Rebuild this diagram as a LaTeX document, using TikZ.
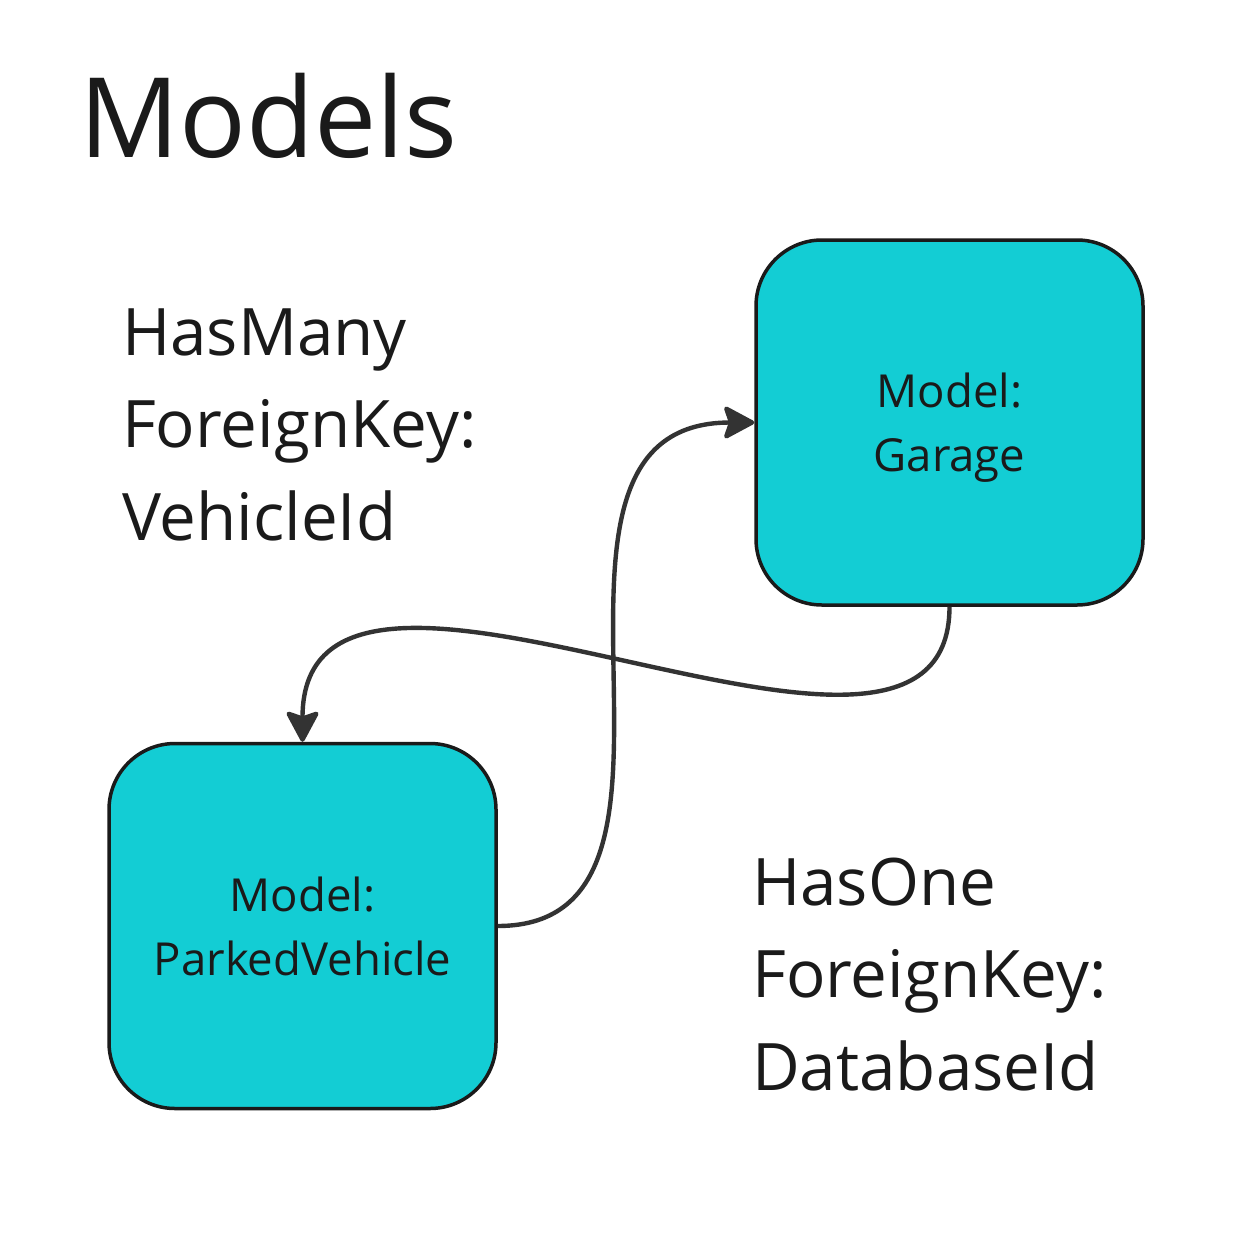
\documentclass[tikz,border=0pt]{standalone}
\usepackage{fontspec}
\setmainfont{Open Sans}
\usetikzlibrary{arrows.meta}
\definecolor{boxfill}{HTML}{13CDD4}
\definecolor{ink}{HTML}{1A1A1A}
\definecolor{wire}{HTML}{333333}
\tikzset{
  modelbox/.style={draw=ink, line width=3.5pt, fill=boxfill, rounded corners=66pt,
    minimum width=387pt, minimum height=365pt, inner sep=0pt},
  boxtext/.style={inner sep=0pt, align=center, text=ink,
    font=\fontsize{45.5}{63.5}\selectfont, anchor=base},
  sidetext/.style={inner sep=0pt, align=left, text=ink,
    font=\fontsize{65.5}{92.5}\selectfont, anchor=base west},
  titletext/.style={inner sep=0pt, text=ink, font=\fontsize{111}{130}\selectfont, anchor=base west},
  link/.style={draw=wire, line width=4.4pt,
    -{Stealth[length=34pt, width=36pt, inset=6pt, round]}},
}
\begin{document}
\begin{tikzpicture}[x=1pt, y=-1pt]
\useasboundingbox[fill=white] (0,0) rectangle (1260,1239);
\node[titletext] (title) at (79,157) {Models};
\node[sidetext] (hasmany) at (122,540) {HasMany\\ForeignKey:\\VehicleId};
\node[sidetext] (hasone) at (752,1090) {HasOne\\ForeignKey:\\DatabaseId};
\node[modelbox] (garage) at (949.5,422.5) {};
\node[modelbox] (pv) at (302.5,926) {};
\node[boxtext] (gtext) at (949.5,471) {Model:\\Garage};
\node[boxtext] (pvtext) at (302.5,975) {Model:\\ParkedVehicle};
\draw[link] (pv.east) .. controls +(240,0) and +(-265,0) .. (garage.west);
\draw[link] (garage.south) .. controls +(0,252) and +(0,-279) .. (pv.north);
\end{tikzpicture}
\end{document}
